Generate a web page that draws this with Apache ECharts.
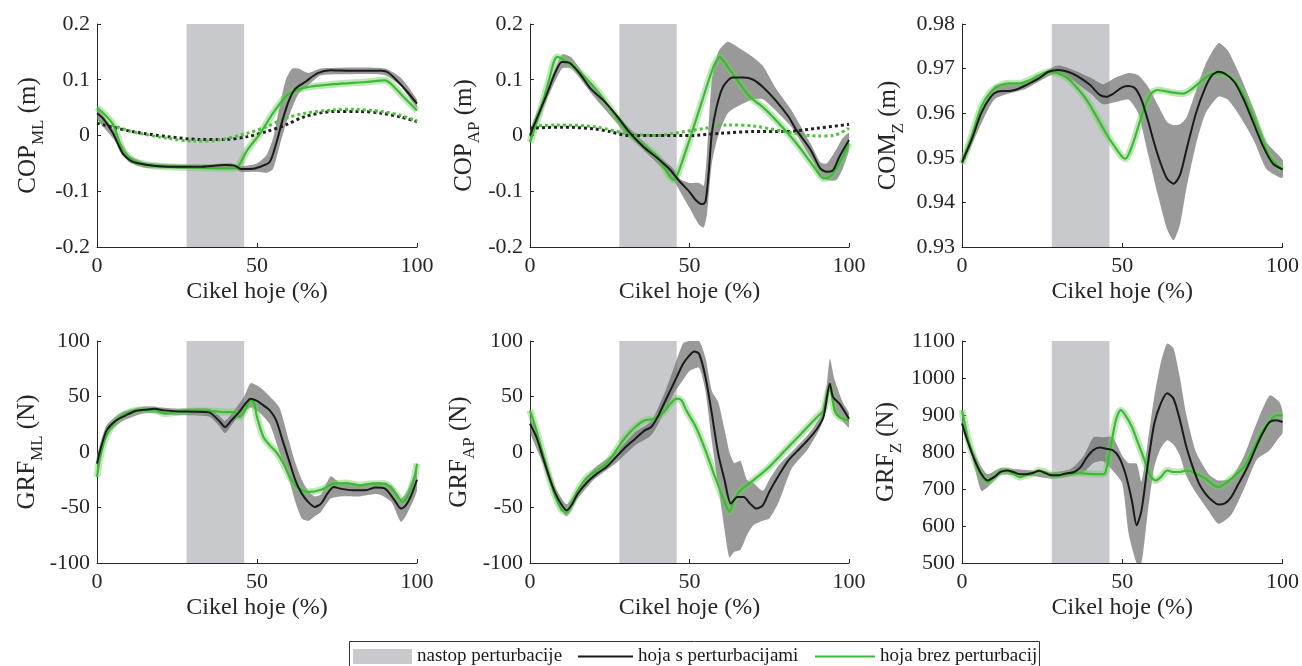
<!DOCTYPE html>
<html>
<head>
<meta charset="utf-8">
<script src="https://cdn.jsdelivr.net/npm/echarts@6/dist/echarts.min.js"></script>
<style>html,body{margin:0;padding:0;background:#fff;}#c{width:1302px;height:666px;}</style>
</head>
<body>
<div id="c"></div>
<script>
// ---------- DATA ----------
const perturbation = [28, 46];
const xTicks = [0, 50, 100];

// COP_ML (m)
const tlBlack = [[0,0.04],[2,0.03],[5,0.004],[8,-0.032],[11,-0.047],[16,-0.053],[22,-0.056],[32,-0.056],[40,-0.053],[43,-0.054],[45,-0.06],[48,-0.06],[51,-0.056],[54,-0.047],[56,-0.014],[58,0.028],[60,0.063],[62,0.084],[65,0.096],[69,0.112],[73,0.117],[79,0.116],[84,0.116],[89,0.116],[91,0.113],[94,0.097],[97,0.078],[100,0.057]];
const tlGreen = [[0,0.05],[2,0.04],[5,0.02],[8,-0.026],[11,-0.044],[16,-0.053],[22,-0.056],[32,-0.058],[42,-0.059],[44,-0.056],[47,-0.026],[51,0.004],[55,0.04],[59,0.07],[61,0.078],[65,0.086],[74,0.092],[84,0.096],[90,0.099],[92,0.092],[96,0.068],[100,0.045]];
const tlBlackDot = [[0,0.022],[5,0.015],[11,0.007],[22,-0.002],[32,-0.007],[40,-0.007],[47,-0.002],[53,0.007],[59,0.019],[65,0.034],[74,0.043],[82,0.043],[89,0.04],[95,0.033],[100,0.025]];
const tlGreenDot = [[0,0.027],[5,0.018],[11,0.007],[22,-0.005],[30,-0.01],[38,-0.008],[47,0.004],[53,0.016],[59,0.031],[65,0.04],[74,0.046],[80,0.047],[89,0.043],[95,0.036],[100,0.026]];
const tlBand = [[0,0.03,0.05],[5,-0.005,0.012],[10,-0.047,-0.035],[15,-0.058,-0.048],[25,-0.06,-0.052],[35,-0.06,-0.052],[42,-0.058,-0.05],[45,-0.065,-0.055],[50,-0.065,-0.05],[53,-0.067,-0.035],[55,-0.06,-0.005],[57,-0.02,0.05],[59,0.02,0.1],[61,0.05,0.12],[63,0.075,0.12],[66,0.09,0.112],[70,0.108,0.12],[80,0.11,0.122],[90,0.108,0.12],[95,0.088,0.103],[100,0.05,0.064]];

// COP_AP (m)
const tmBlack = [[0,0.0],[1,0.015],[5,0.07],[8,0.114],[10,0.132],[12.5,0.13],[16,0.108],[19,0.084],[23,0.063],[27,0.037],[31,0.007],[35.5,-0.02],[40,-0.041],[44,-0.062],[47,-0.083],[50,-0.101],[52,-0.116],[54,-0.123],[55,-0.119],[56,-0.068],[57,0.004],[58.5,0.051],[60.5,0.087],[63.5,0.104],[67,0.104],[70,0.1],[73,0.087],[77,0.063],[81,0.034],[83.5,0.01],[88,-0.026],[91,-0.059],[93,-0.065],[95,-0.062],[97,-0.038],[100,-0.008]];
const tmGreen = [[0,-0.012],[3,0.04],[6,0.1],[8.5,0.141],[12.5,0.129],[21,0.081],[31,0.004],[40,-0.038],[45,-0.08],[46,-0.074],[50,-0.008],[54,0.063],[57.5,0.123],[59.5,0.141],[60.5,0.135],[65,0.099],[69,0.069],[73,0.051],[78,0.022],[83.5,-0.014],[89,-0.056],[92,-0.077],[94,-0.074],[97,-0.05],[100,-0.014]];
const tmBlackDot = [[0,0.013],[10,0.015],[20,0.012],[25,0.007],[31,0.0],[40,0.0],[50,0.0],[60,0.004],[70,0.007],[80,0.007],[90,0.013],[100,0.02]];
const tmGreenDot = [[0,0.016],[8,0.019],[20,0.016],[30,0.004],[40,0.0],[45,0.004],[55,0.013],[62,0.019],[70,0.017],[80,0.007],[90,-0.001],[95,0.0],[100,0.013]];
const tmBand = [[0,-0.01,0.01],[5,0.06,0.08],[10,0.12,0.145],[13,0.12,0.14],[20,0.07,0.085],[30,0.005,0.02],[40,-0.05,-0.035],[45,-0.08,-0.06],[47,-0.1,-0.078],[50,-0.13,-0.085],[53,-0.16,-0.085],[54.5,-0.165,-0.09],[55.5,-0.14,-0.03],[57,-0.05,0.1],[59,0.0,0.15],[62,0.04,0.168],[66,0.055,0.155],[70,0.065,0.14],[73,0.065,0.125],[77,0.045,0.085],[82,0.015,0.045],[88,-0.04,-0.015],[91,-0.07,-0.048],[93,-0.08,-0.05],[96,-0.08,-0.025],[98,-0.06,-0.005],[100,-0.025,0.005]];

// COM_Z (m)
const trBlack = [[0,0.949],[3,0.954],[6,0.96],[9,0.9637],[11,0.9648],[15,0.965],[17,0.9653],[20,0.9663],[24,0.9678],[27,0.9693],[30,0.9697],[33,0.9693],[36,0.9683],[40,0.9663],[43,0.9641],[45,0.9637],[47,0.9643],[50,0.9658],[52,0.9661],[54,0.9656],[56,0.963],[58,0.9584],[60,0.9532],[62,0.9487],[64,0.9453],[66,0.9442],[68,0.9461],[70,0.9517],[73,0.96],[76,0.9659],[78,0.9685],[80,0.9693],[82,0.9689],[85,0.967],[88,0.9629],[91,0.9577],[94,0.9525],[97,0.9487],[100,0.9474]];
const trGreen = [[0,0.9487],[3,0.9548],[6,0.9614],[9,0.9648],[12,0.9663],[15,0.9667],[18,0.9667],[21,0.9674],[24,0.9685],[27,0.9693],[30,0.9689],[33,0.9678],[36,0.9656],[39,0.9629],[42,0.9592],[45,0.9554],[48,0.9521],[50,0.9502],[51,0.9498],[53,0.9525],[55,0.957],[57,0.9614],[59,0.9644],[61,0.9652],[63,0.965],[66,0.9646],[69,0.9644],[72,0.9656],[75,0.9674],[78,0.9688],[81,0.9689],[84,0.9678],[87,0.9652],[90,0.9607],[93,0.9554],[96,0.9502],[100,0.9472]];
const trBand = [[0,0.948,0.95],[10,0.963,0.966],[20,0.9655,0.967],[30,0.969,0.9707],[40,0.9645,0.968],[44,0.962,0.9665],[48,0.9625,0.968],[52,0.963,0.969],[55,0.96,0.9685],[58,0.951,0.966],[61,0.942,0.962],[64,0.934,0.958],[66,0.9315,0.9573],[68,0.935,0.9575],[70,0.943,0.959],[73,0.953,0.965],[76,0.96,0.971],[80,0.9637,0.9757],[83,0.963,0.974],[87,0.959,0.968],[91,0.954,0.961],[95,0.9475,0.9535],[100,0.9455,0.9495]];

// GRF_ML (N)
const blBlack = [[0,-10.5],[1,1.5],[3,19.5],[6,28.5],[9,33],[12,37],[15,38],[18,39],[21,37.5],[25,36.6],[30,36.3],[35,35.7],[38,28.5],[40,22.5],[42,28.5],[44,34.5],[46,42],[48,48],[50,46],[52,42],[54,37.5],[56,28.5],[58,10.5],[60,-7.5],[62,-25.5],[64,-37.5],[66,-45],[68,-49.5],[70,-46.5],[72,-37.5],[74,-31.5],[76,-33],[80,-34.5],[84,-34.5],[87,-32],[90,-33],[93,-43.5],[95,-51],[96.5,-48],[98,-40.5],[100,-25]];
const blGreen = [[0,-22.5],[1,-4.5],[3,15],[6,28.5],[9,34.5],[12,37.5],[15,38],[18,38],[21,34.5],[25,36],[30,37],[35,37],[40,36],[43,36],[44.5,31.5],[46,36],[48,46.5],[49,45],[50,31.5],[52,13.5],[54,6],[56,0],[58,-9],[60,-21],[62,-30],[64,-34.5],[66,-36],[70,-34],[74,-28.5],[78,-28],[82,-30],[86,-28.5],[90,-28.5],[93,-36],[95.5,-45],[97,-40.5],[99,-25.5],[100,-10.5]];
const blBand = [[0,-15,-5],[3,15,24],[8,28,36],[15,35,41],[25,33,39],[35,32,39],[38,24,33],[40,17,28],[43,28,38],[46,36,50],[48,40,62],[51,35,58],[54,25,50],[57,0,40],[60,-25,10],[62,-45,-10],[64,-60,-25],[66,-62,-35],[68,-58,-40],[70,-54,-38],[73,-42,-22],[76,-40,-28],[82,-40,-29],[88,-38,-27],[92,-45,-30],[95,-63,-42],[97,-55,-35],[100,-35,-15]];

// GRF_AP (N)
const bmBlack = [[0,25.5],[2,13.5],[4,-4.5],[6,-22.5],[8,-37.5],[10,-48],[11.5,-52.5],[13,-48],[15,-37.5],[18,-27],[21,-19.5],[24,-13.5],[27,-4.5],[30,4.5],[33,12],[36,19.5],[38,22.5],[40,31.5],[42,43.5],[44,55.5],[46,67.5],[48,79.5],[50,87],[51.5,90.5],[53,88.5],[55,67.5],[57,34.5],[59,-1.5],[61,-25.5],[63,-46.5],[65,-40.5],[67,-40.5],[69,-46.5],[71,-51],[73,-48],[75,-36],[78,-21],[81,-7.5],[84,1.5],[87,10.5],[90,21],[92,31.5],[94,61.5],[95,49.5],[97,43.5],[100,30]];
const bmGreen = [[0,37.5],[2,19.5],[4,-1.5],[6,-22.5],[8,-40.5],[10,-52.5],[11.5,-54],[13,-46.5],[15,-34.5],[18,-22.5],[21,-16.5],[24,-10.5],[27,1.5],[30,13.5],[33,22.5],[36,28.5],[39,30],[42,36],[44,43.5],[46,48],[47.5,46.5],[49,37.5],[52,22.5],[55,1.5],[58,-22.5],[61,-45],[62.5,-54],[64,-43.5],[66,-34.5],[70,-25.5],[75,-13.5],[80,1.5],[85,16.5],[90,31.5],[92,37.5],[94,58.5],[95.5,37.5],[97,31.5],[100,28.5]];
const bmBand = [[0,18,32],[4,-10,2],[8,-43,-32],[11.5,-58,-47],[15,-42,-33],[20,-25,-15],[27,-10,0],[33,6,18],[38,15,28],[42,35,52],[45,52,75],[48,65,98],[50,73,100],[53,76,100],[55,55,85],[57,10,55],[59,-30,45],[61,-70,20],[62.5,-95,0],[64,-90,-10],[66,-88,-8],[68,-75,-25],[70,-66,-28],[73,-62,-35],[75,-60,-25],[78,-45,-12],[82,-15,0],[87,2,15],[91,22,32],[93,40,60],[94,55,84],[95.5,35,65],[98,28,45],[100,22,35]];

// GRF_Z (N)
const brBlack = [[0,877],[2,823],[4,777],[6,741],[8,723],[10,732],[12,746],[14,750],[16,746],[18,740],[20,740],[22,743],[24,749],[26,743],[28,737],[30,737],[32,741],[35,746],[37,759],[39,786],[41,805],[43,812],[45,809],[47,805],[49,786],[51,741],[53,669],[54.5,602],[56,642],[58,768],[60,877],[62,931],[64,959],[66,944],[68,886],[70,814],[72,759],[74,714],[76,687],[78,669],[80,658],[82,661],[84,678],[86,710],[88,741],[90,777],[92,818],[94,854],[96,881],[98,886],[100,881]];
const brGreen = [[0,913],[2,832],[4,777],[6,737],[8,719],[10,732],[12,746],[14,750],[16,741],[18,732],[20,737],[22,741],[24,750],[26,746],[28,737],[30,737],[33,741],[36,743],[40,741],[43,740],[44.5,741],[46,795],[48,886],[49.5,913],[51,899],[53,868],[55,823],[57,777],[59,732],[60.5,723],[62,732],[64,750],[66,746],[68,746],[70,750],[72,746],[74,737],[76,728],[78,714],[80,705],[82,714],[84,728],[86,743],[88,759],[90,791],[92,827],[94,859],[96,881],[98,899],[100,899]];
const brBand = [[0,865,890],[3,790,815],[6,695,760],[8,705,740],[12,738,757],[16,738,754],[22,735,750],[28,728,745],[34,735,755],[38,745,790],[41,770,840],[44,775,840],[47,750,840],[50,715,790],[52,580,770],[54.5,500,768],[56,500,720],[58,640,830],[60,760,950],[62,810,1040],[64,832,1093],[66,820,1080],[68,790,1000],[70,735,900],[73,690,800],[77,640,740],[80,606,723],[84,630,730],[88,700,790],[92,780,880],[96,805,953],[99,840,935],[100,850,910]];

// axis ranges and labels
const yRanges = [[-0.2,0.2,0.1],[-0.2,0.2,0.1],[0.93,0.98,0.01],[-100,100,50],[-100,100,50],[500,1100,100]];
const yNames = [['COP','ML','(m)'],['COP','AP','(m)'],['COM','Z','(m)'],['GRF','ML','(N)'],['GRF','AP','(N)'],['GRF','Z','(N)']];
const xName = 'Cikel hoje (%)';
const legendNames = ['nastop perturbacije','hoja s perturbacijami','hoja brez perturbacij'];

// ---------- CHART ----------
const FONT = "'Liberation Serif', 'DejaVu Serif', serif";
const BLACK = '#1a1a1a', GREEN = '#3fb83a', HALO = 'rgba(110,205,90,0.45)', PERT = '#c8c9cc', BANDC = 'rgba(105,105,105,0.68)';
const grids = [
  {left:97, top:24, width:320, height:223},
  {left:530, top:24, width:319, height:223},
  {left:962, top:24, width:321, height:223},
  {left:97, top:341, width:320, height:222},
  {left:530, top:341, width:319, height:222},
  {left:962, top:341, width:321, height:222}
];
const nameGaps = [50, 47, 55, 50, 52, 57];
const panels = [
  {black:tlBlack, green:tlGreen, band:tlBand, bDot:tlBlackDot, gDot:tlGreenDot},
  {black:tmBlack, green:tmGreen, band:tmBand, bDot:tmBlackDot, gDot:tmGreenDot},
  {black:trBlack, green:trGreen, band:trBand},
  {black:blBlack, green:blGreen, band:blBand},
  {black:bmBlack, green:bmGreen, band:bmBand},
  {black:brBlack, green:brGreen, band:brBand}
];

const xAxis = [], yAxis = [], series = [];
panels.forEach((p, i) => {
  const r = yRanges[i];
  xAxis.push({
    gridIndex:i, type:'value', min:xTicks[0], max:xTicks[2], interval:50,
    name:xName, nameLocation:'middle', nameGap:33,
    nameTextStyle:{fontFamily:FONT, fontSize:24, color:'#262626'},
    axisLine:{onZero:false, lineStyle:{color:'#262626', width:1}},
    axisTick:{inside:true, length:4, lineStyle:{color:'#262626'}},
    axisLabel:{fontFamily:FONT, fontSize:22, color:'#262626', margin:8},
    splitLine:{show:false}
  });
  const dec = r[2] < 0.1 ? 2 : (r[2] < 1 ? 1 : 0);
  yAxis.push({
    gridIndex:i, type:'value', min:r[0], max:r[1], interval:r[2],
    name:'{a|' + yNames[i][0] + '}{b|' + yNames[i][1] + '}{a| ' + yNames[i][2] + '}',
    nameLocation:'middle', nameGap:nameGaps[i],
    nameTextStyle:{fontFamily:FONT, rich:{
      a:{fontFamily:FONT, fontSize:25, color:'#262626', verticalAlign:'top'},
      b:{fontFamily:FONT, fontSize:17, color:'#262626', verticalAlign:'top', padding:[14,0,0,0]}
    }},
    axisLine:{show:true, onZero:false, lineStyle:{color:'#262626', width:1}},
    axisTick:{show:true, inside:true, length:4, lineStyle:{color:'#262626'}},
    axisLabel:{fontFamily:FONT, fontSize:22, color:'#262626', margin:7,
      formatter: v => (Math.abs(v) < 1e-9 ? '0' : (dec === 0 ? String(Math.round(v)) : (dec === 2 ? v.toFixed(2) : String(+v.toFixed(1)))))},
    splitLine:{show:false}
  });
  series.push({
    type:'line', name:legendNames[0], xAxisIndex:i, yAxisIndex:i, data:[], z:1, silent:true,
    markArea:{silent:true, itemStyle:{color:PERT}, data:[[{xAxis:perturbation[0]},{xAxis:perturbation[1]}]]}
  });
  const band = p.band;
  series.push({
    type:'custom', xAxisIndex:i, yAxisIndex:i, z:2, silent:true, clip:true,
    data:[[0, band[0][1]]],
    renderItem:(params, api) => {
      const up = band.map(b => api.coord([b[0], b[2]]));
      const lo = band.slice().reverse().map(b => api.coord([b[0], b[1]]));
      return {type:'polygon', shape:{points:up.concat(lo), smooth:0.2}, style:{fill:BANDC}};
    }
  });
  series.push({type:'line', xAxisIndex:i, yAxisIndex:i, data:p.green, z:3, smooth:0.25, showSymbol:false, silent:true,
    lineStyle:{color:HALO, width:7}});
  if (p.bDot) {
    series.push({type:'line', xAxisIndex:i, yAxisIndex:i, data:p.bDot, z:4, smooth:0.3, showSymbol:false, silent:true,
      lineStyle:{color:'#222', width:3, type:[3,3], cap:'butt'}});
    series.push({type:'line', xAxisIndex:i, yAxisIndex:i, data:p.gDot, z:4, smooth:0.3, showSymbol:false, silent:true,
      lineStyle:{color:'#52c040', width:3, type:[3,3], cap:'butt', dashOffset:3}});
  }
  series.push({type:'line', name:legendNames[2], xAxisIndex:i, yAxisIndex:i, data:p.green, z:5, smooth:0.25, showSymbol:false, silent:true,
    color:GREEN, lineStyle:{color:GREEN, width:2.2}});
  series.push({type:'line', name:legendNames[1], xAxisIndex:i, yAxisIndex:i, data:p.black, z:6, smooth:0.25, showSymbol:false, silent:true,
    color:BLACK, lineStyle:{color:BLACK, width:2}});
});

const legTxt = {fontFamily:FONT, fontSize:19, color:'#1a1a1a'};
const option = {
  animation:false,
  backgroundColor:'#fff',
  textStyle:{fontFamily:FONT},
  grid:grids,
  xAxis, yAxis, series,
  legend:[
    {left:353, top:647, padding:0, itemWidth:59, itemHeight:15, selectedMode:false, textStyle:legTxt,
      data:[{name:legendNames[0], icon:'rect', itemStyle:{color:PERT, borderWidth:0}}]},
    {left:578, top:647, padding:0, itemWidth:55, itemHeight:15, selectedMode:false, textStyle:legTxt,
      data:[{name:legendNames[1], icon:'path://M0,0H55V2H0Z', itemStyle:{color:BLACK, borderWidth:0}}]},
    {left:815, top:647, padding:0, itemWidth:60, itemHeight:15, selectedMode:false, textStyle:legTxt,
      data:[{name:legendNames[2], icon:'path://M0,0H60V2H0Z', itemStyle:{color:GREEN, borderWidth:0}}]}
  ],
  graphic:[{type:'rect', z:0, silent:true, shape:{x:349.5, y:641.5, width:690, height:40},
    style:{fill:'#fff', stroke:'#333', lineWidth:1}}]
};
const chart = echarts.init(document.getElementById('c'), null, {renderer:'canvas'});
chart.setOption(option);
</script>
</body>
</html>
